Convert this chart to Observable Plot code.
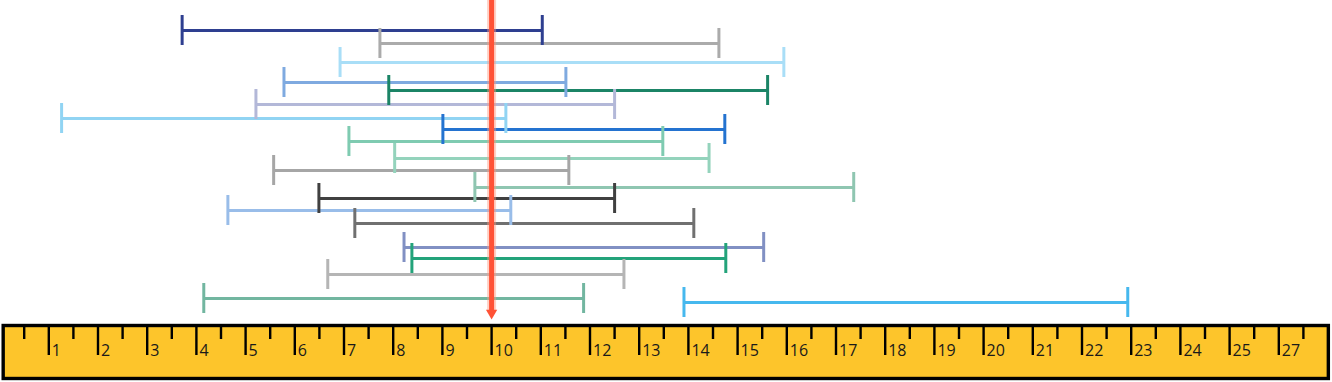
<!DOCTYPE html>
<html>
<head>
<meta charset="utf-8">
<script src="https://cdn.jsdelivr.net/npm/d3@7"></script>
<script src="https://cdn.jsdelivr.net/npm/@observablehq/plot@0.6"></script>
<style>
  html, body { margin: 0; padding: 0; background: #fff; }
  #chart svg { display: block; }
</style>
</head>
<body>
<div id="chart"></div>
<script>
// ---- data ----
const starts = [3.71, 7.73, 6.92, 5.78, 7.91, 5.21, 1.26, 9.01, 7.10, 8.03, 5.57, 9.66, 6.49, 4.64, 7.22, 8.22, 8.38, 6.67, 4.15, 13.91];
const ends   = [11.03, 14.62, 15.94, 11.51, 15.61, 12.50, 10.29, 14.74, 13.48, 14.42, 11.57, 17.36, 12.50, 10.39, 14.11, 15.53, 14.76, 12.69, 11.87, 22.93];
const levels = [29.4, 28.1, 26.2, 24.2, 23.4, 22.0, 20.6, 19.5, 18.3, 16.6, 15.4, 13.7, 12.6, 11.4, 10.1, 7.7, 6.6, 5.0, 2.6, 2.2];
const colors = ["#2E3F90", "#ABABAB", "#A9DEF7", "#7FAAE0", "#1B8466", "#B3B8D8", "#91D4F3", "#2473D0", "#7FCBB1", "#94D3BC",
                "#A6A6A6", "#8FC6B1", "#404040", "#99BDE9", "#707070", "#8190C3", "#23A37A", "#B5B5B5", "#72B6A0", "#46B8EE"];
const marker = 10;
const tickPositions = d3.range(1, 27);
const tickLabels = ["1","2","3","4","5","6","7","8","9","10","11","12","13","14","15","16","17","18","19","20","21","22","23","24","25","27"];
const minorTicks = d3.range(0.5, 27, 1);

const rows = starts.map((s, i) => ({s, e: ends[i], y: levels[i], c: colors[i]}));
const capHalf = 1.5;

const chart = Plot.plot({
  width: 1332,
  height: 382,
  margin: 0,
  x: {domain: [0, 27], range: [-0.9, 1327.5], axis: null},
  y: {domain: [-5.8, 32.4], range: [382, 0], axis: null},
  style: {background: "#fff", fontFamily: "'Open Sans', sans-serif"},
  marks: [
    // ruler body
    Plot.rect([0], {x1: 0.083, x2: 27.017, y1: -0.15, y2: -5.45, fill: "#FDC52B", stroke: "#000", strokeWidth: 3.4}),
    Plot.ruleX(tickPositions, {x: d => d, y1: -0.27, y2: -3.1, stroke: "#000", strokeWidth: 2.4}),
    Plot.ruleX(minorTicks, {x: d => d, y1: -0.27, y2: -1.5, stroke: "#000", strokeWidth: 2.4}),
    Plot.text(tickPositions, {x: d => d, y: -3.1, text: (d, i) => tickLabels[i], textAnchor: "start", lineAnchor: "bottom", dx: 3, fontSize: 16, fill: "#1a1a1a"}),
    // intervals
    Plot.ruleY(rows, {y: "y", x1: "s", x2: "e", stroke: "c", strokeWidth: 3}),
    Plot.ruleX(rows, {x: "s", y1: d => d.y + capHalf, y2: d => d.y - capHalf, stroke: "c", strokeWidth: 3}),
    Plot.ruleX(rows, {x: "e", y1: d => d.y + capHalf, y2: d => d.y - capHalf, stroke: "c", strokeWidth: 3}),
    // red marker line
    Plot.ruleX([marker], {x: d => d, y1: 32.4, y2: 1.3, stroke: "#FF9A80", strokeWidth: 9, strokeOpacity: 0.45}),
    Plot.ruleX([marker], {x: d => d, y1: 32.4, y2: 1.3, stroke: "#FF5236", strokeWidth: 5}),
    Plot.dot([marker], {x: d => d, y: 1.15, symbol: "triangle", rotate: 180, r: 4.2, fill: "#FF5236", stroke: "none"})
  ]
});
document.getElementById("chart").append(chart);
</script>
</body>
</html>
